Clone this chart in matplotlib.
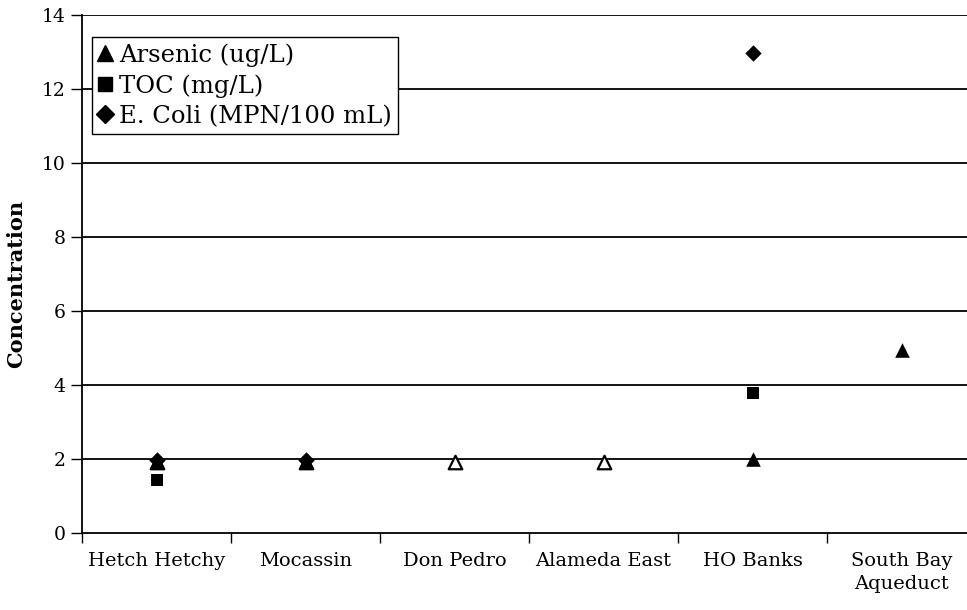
import matplotlib
matplotlib.use("Agg")
import matplotlib.pyplot as plt
from matplotlib.lines import Line2D

sites = ["Hetch Hetchy", "Mocassin", "Don Pedro", "Alameda East", "HO Banks", "South Bay\nAqueduct"]

# Arsenic: detected values (filled) and reporting-limit values (open)
arsenic_detect_idx = [4, 5]
arsenic_detect_val = [2.0, 4.95]
arsenic_nd_idx = [0, 1, 2, 3]
arsenic_nd_val = [1.93, 1.93, 1.92, 1.92]

toc_idx = [0, 4]
toc_val = [1.42, 3.78]

ecoli_idx = [0, 1, 4]
ecoli_val = [1.98, 1.98, 12.98]

yticks = [0, 2, 4, 6, 8, 10, 12, 14]

plt.rcParams["font.family"] = ["DejaVu Serif"]

fig = plt.figure(figsize=(9.67, 6.1), dpi=100)
ax = fig.add_axes([82 / 967, 1 - 533 / 610, (976 - 82) / 967, (533 - 15) / 610])

ax.set_xlim(0, 6)
ax.set_ylim(0, 14)

for y in yticks[1:]:
    ax.axhline(y, color="black", lw=1.3, zorder=1)

x = lambda idx: [i + 0.5 for i in idx]

ax.scatter(x(ecoli_idx), ecoli_val, marker="D", s=70, color="black", zorder=3, linewidths=0)
ax.scatter(x(toc_idx), toc_val, marker="s", s=75, color="black", zorder=3, linewidths=0)
ax.scatter(x(arsenic_detect_idx), arsenic_detect_val, marker="^", s=110, color="black", zorder=4, linewidths=0)
ax.scatter(x(arsenic_nd_idx), arsenic_nd_val, marker="^", s=95, facecolor="white",
           edgecolor="black", linewidths=1.6, zorder=4)
ax.scatter(x([0, 1]), [1.93, 1.93], marker="^", s=95, facecolor="black",
           edgecolor="black", linewidths=1.0, zorder=5)

for side in ["top", "right"]:
    ax.spines[side].set_visible(False)
ax.spines["left"].set_linewidth(1.3)
ax.spines["bottom"].set_linewidth(1.3)

ax.set_xticks(range(0, 7))
ax.set_xticklabels([])
ax.set_xticks([i + 0.5 for i in range(6)], minor=True)
ax.set_xticklabels(sites, minor=True, fontsize=14, linespacing=1.3)
ax.tick_params(axis="x", which="major", direction="out", length=7, width=1)
ax.tick_params(axis="x", which="minor", length=0, pad=14)

ax.set_yticks(yticks)
ax.set_yticklabels([str(v) for v in yticks], fontsize=13.5)
ax.tick_params(axis="y", direction="out", length=8, width=1, pad=4)

ax.set_ylabel("Concentration", fontsize=15, fontweight="bold")
ax.yaxis.set_label_coords(-0.062, 0.48)

handles = [
    Line2D([], [], marker="^", color="black", ls="none", markersize=12),
    Line2D([], [], marker="s", color="black", ls="none", markersize=9.5),
    Line2D([], [], marker="D", color="black", ls="none", markersize=9),
]
labels = ["Arsenic (ug/L)", "TOC (mg/L)", "E. Coli (MPN/100 mL)"]
leg = ax.legend(handles, labels, loc="upper left", bbox_to_anchor=(10 / 894, 0.957),
                fontsize=17.5, frameon=True, fancybox=False, edgecolor="black",
                handlelength=0.6, handletextpad=0.25, borderpad=0.25, labelspacing=0.3,
                borderaxespad=0, framealpha=1)
leg.get_frame().set_linewidth(1.0)

fig.savefig("out.png", dpi=100, facecolor="white")
